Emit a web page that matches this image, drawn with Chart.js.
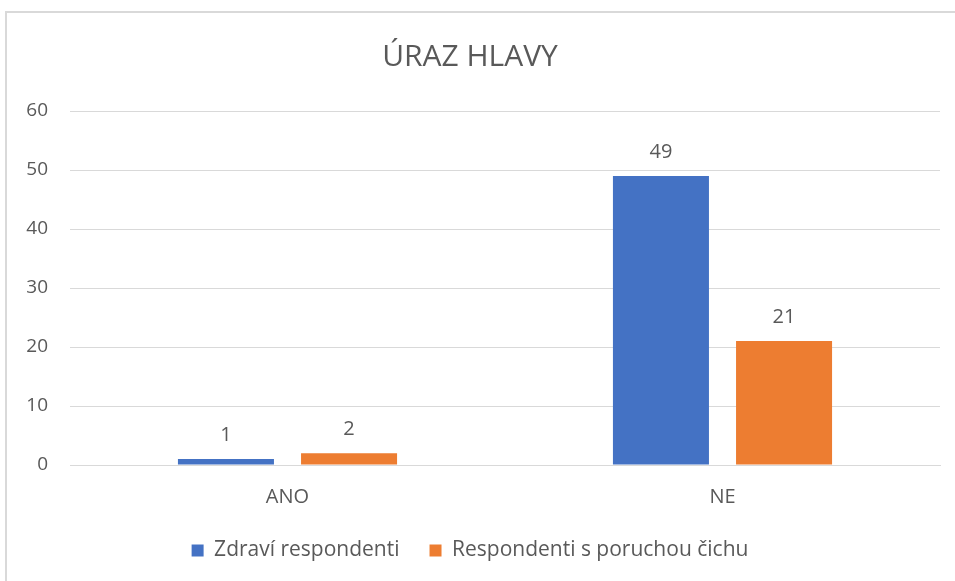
<!DOCTYPE html>
<html>
<head>
<meta charset="utf-8">
<script src="https://cdn.jsdelivr.net/npm/chart.js@4"></script>
<style>
  html, body { margin: 0; padding: 0; background: #fff; }
  #wrap { position: relative; width: 955px; height: 581px; overflow: hidden; }
  #frame { position: absolute; left: 5px; top: 11px; width: 980px; height: 600px; border: 2px solid #d9d9d9; }
  canvas { position: absolute; left: 0; top: 0; }
</style>
</head>
<body>
<div id="wrap">
  <div id="frame"></div>
  <canvas id="chart" width="955" height="581"></canvas>
</div>
<script>
const categories = ["ANO", "NE"];
const healthy = [1, 49];
const smellDisorder = [2, 21];
const seriesNames = ["Zdraví respondenti", "Respondenti s poruchou čichu"];
const yTicks = [0, 10, 20, 30, 40, 50, 60];

const textColor = "#595959";
const fontFamily = "'Open Sans', 'Noto Sans', sans-serif";

// draws the value above each bar
const valueLabels = {
    id: "valueLabels",
    afterDatasetsDraw(chart) {
        const ctx = chart.ctx;
        ctx.save();
        ctx.fillStyle = textColor;
        ctx.font = "20px " + fontFamily;
        ctx.textAlign = "center";
        ctx.textBaseline = "middle";
        chart.data.datasets.forEach((ds, i) => {
            chart.getDatasetMeta(i).data.forEach((bar, j) => {
                ctx.fillText(String(ds.data[j]), bar.x, bar.y - 24);
            });
        });
        ctx.restore();
    }
};

new Chart(document.getElementById("chart"), {
    type: "bar",
    data: {
        labels: categories,
        datasets: [{
            label: seriesNames[0],
            data: healthy,
            backgroundColor: "#4472C4"
        }, {
            label: seriesNames[1],
            data: smellDisorder,
            backgroundColor: "#ED7D31"
        }]
    },
    options: {
        responsive: false,
        animation: false,
        categoryPercentage: 0.566,
        barPercentage: 0.78,
        layout: {
            padding: { left: 0, right: 15, top: 39, bottom: 10 }
        },
        plugins: {
            title: {
                display: true,
                text: "ÚRAZ HLAVY",
                color: textColor,
                font: { family: fontFamily, size: 30, weight: "normal" },
                padding: { top: 0, bottom: 36 }
            },
            legend: {
                position: "bottom",
                labels: {
                    color: textColor,
                    font: { family: fontFamily, size: 21 },
                    boxWidth: 12,
                    boxHeight: 12,
                    padding: 30
                }
            },
            tooltip: { enabled: false }
        },
        scales: {
            x: {
                afterFit(scale) { scale.height = 45; },
                grid: { display: false },
                border: { color: "#d9d9d9", width: 1 },
                ticks: {
                    color: textColor,
                    font: { family: fontFamily, size: 20 },
                    padding: 12
                }
            },
            y: {
                min: 0,
                max: 60,
                afterFit(scale) { scale.width = 70; },
                afterBuildTicks(scale) { scale.ticks = yTicks.map(v => ({ value: v })); },
                grid: { color: "#d9d9d9", drawTicks: false },
                border: { display: false },
                ticks: {
                    color: textColor,
                    font: { family: fontFamily, size: 19 },
                    padding: 22
                }
            }
        }
    },
    plugins: [valueLabels]
});
</script>
</body>
</html>
